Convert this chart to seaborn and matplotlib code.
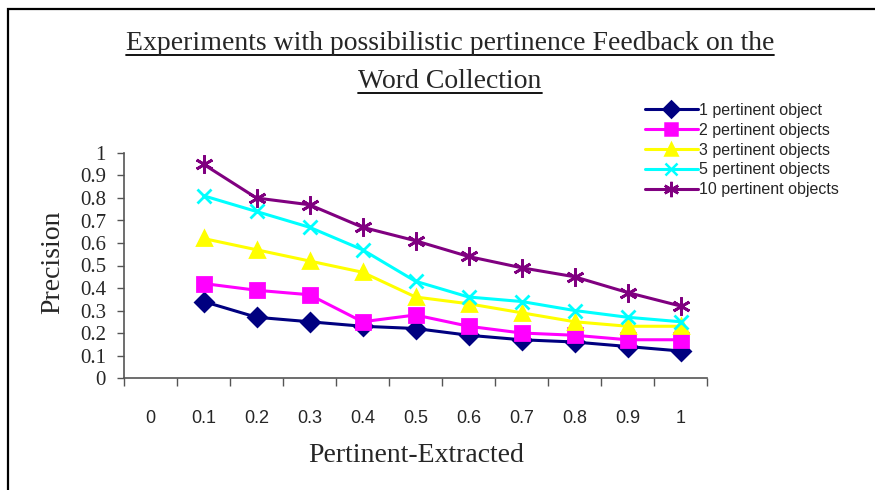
import pandas as pd
import matplotlib
matplotlib.use("Agg")
import matplotlib.pyplot as plt
from matplotlib.patches import Rectangle
from matplotlib.lines import Line2D
import seaborn as sns

x_values = [0.1, 0.2, 0.3, 0.4, 0.5, 0.6, 0.7, 0.8, 0.9, 1.0]
tick_values = [0, 0.1, 0.2, 0.3, 0.4, 0.5, 0.6, 0.7, 0.8, 0.9, 1.0]
tick_labels = ["0", "0.1", "0.2", "0.3", "0.4", "0.5", "0.6", "0.7", "0.8", "0.9", "1"]

one_obj = [0.34, 0.27, 0.25, 0.23, 0.22, 0.19, 0.17, 0.16, 0.14, 0.12]
two_obj = [0.42, 0.39, 0.37, 0.25, 0.28, 0.23, 0.20, 0.19, 0.17, 0.17]
three_obj = [0.62, 0.57, 0.52, 0.47, 0.36, 0.33, 0.29, 0.25, 0.23, 0.23]
five_obj = [0.81, 0.74, 0.67, 0.57, 0.43, 0.36, 0.34, 0.30, 0.27, 0.25]
ten_obj = [0.95, 0.80, 0.77, 0.67, 0.61, 0.54, 0.49, 0.45, 0.38, 0.32]

series_names = ["1 pertinent object", "2 pertinent objects", "3 pertinent objects",
                "5 pertinent objects", "10 pertinent objects"]
series_values = [one_obj, two_obj, three_obj, five_obj, ten_obj]
colors = ["#000080", "#FF00FF", "#FFFF00", "#00FFFF", "#800080"]
markers = ["D", "s", "^", "x", (6, 2, 0)]
marker_sizes = [9, 10, 10, 10, 13]

rows = []
for name, vals in zip(series_names, series_values):
    for x, v in zip(x_values, vals):
        rows.append({"x": x, "precision": v, "series": name})
df = pd.DataFrame(rows)

sns.set_style("white")
plt.rcParams["font.family"] = ["Liberation Serif", "DejaVu Serif"]

fig = plt.figure(figsize=(8.75, 4.9), dpi=100)
ax = fig.add_axes([124 / 875, 1 - 378 / 490, 583 / 875, 225 / 490])

for name, c, m, ms in zip(series_names, colors, markers, marker_sizes):
    sns.lineplot(data=df[df["series"] == name], x="x", y="precision",
                 color=c, marker=m, markersize=ms, markeredgewidth=2,
                 markeredgecolor=c, linewidth=2.2, ax=ax)

ax.set_xlim(-0.05, 1.05)
ax.set_ylim(0, 1)
ax.set_xticks(tick_values)
ax.set_xticklabels(tick_labels, fontfamily="Liberation Sans", fontsize=13)
ax.set_xticks([-0.05 + 0.1 * i for i in range(12)], minor=True)
ax.tick_params(axis="x", which="major", length=0, pad=23)
ax.tick_params(axis="x", which="minor", length=6, width=1, direction="out",
               color="#555555", bottom=True)
ax.set_yticks([i / 10 for i in range(11)])
ax.set_yticklabels(["0", "0.1", "0.2", "0.3", "0.4", "0.5", "0.6", "0.7", "0.8", "0.9", "1"],
                   fontsize=15)
ax.tick_params(axis="y", length=5, width=1, direction="out", color="#555555",
               left=True, pad=8)
for s in ["top", "right"]:
    ax.spines[s].set_visible(False)
for s in ["left", "bottom"]:
    ax.spines[s].set_color("#555555")
    ax.spines[s].set_linewidth(1.2)

ax.set_xlabel("")
ax.set_ylabel("")
fig.text(416 / 875, 1 - 455 / 490, "Pertinent-Extracted", fontsize=20,
         ha="center", va="center")
fig.text(53 / 875, 1 - 262 / 490, "Precision", fontsize=20, rotation=90,
         ha="center", va="center")

# legend
handles = [Line2D([0], [0], color=c, marker=m, markersize=ms * 0.85, linewidth=2.2,
                  markeredgewidth=1.8, markeredgecolor=c)
           for c, m, ms in zip(colors, markers, marker_sizes)]
fig.legend(handles, series_names, loc="upper left",
           bbox_to_anchor=(645 / 875, 1 - 103 / 490), frameon=False,
           prop={"family": "Liberation Sans", "size": 11.5},
           handlelength=3.3, handletextpad=0.1, labelspacing=0.3,
           borderaxespad=0, borderpad=0)

# title with underline
t1 = fig.text(450 / 875, 1 - 44 / 490,
              "Experiments with possibilistic pertinence Feedback on the",
              fontsize=20, ha="center", va="center")
t2 = fig.text(450 / 875, 1 - 82 / 490, "Word Collection", fontsize=20,
              ha="center", va="center")
fig.canvas.draw()
renderer = fig.canvas.get_renderer()
for t in [t1, t2]:
    bb = t.get_window_extent(renderer).transformed(fig.transFigure.inverted())
    yline = bb.y0 + 0.003
    fig.add_artist(Line2D([bb.x0, bb.x1], [yline, yline], color="black",
                          linewidth=1.3, transform=fig.transFigure))

# outer border (clipped at right and bottom)
fig.add_artist(Rectangle((8 / 875, -0.5), 2, 1.5 - 9 / 490, fill=False,
                         edgecolor="black", linewidth=1.6,
                         transform=fig.transFigure))

fig.savefig("out.png", dpi=100)
